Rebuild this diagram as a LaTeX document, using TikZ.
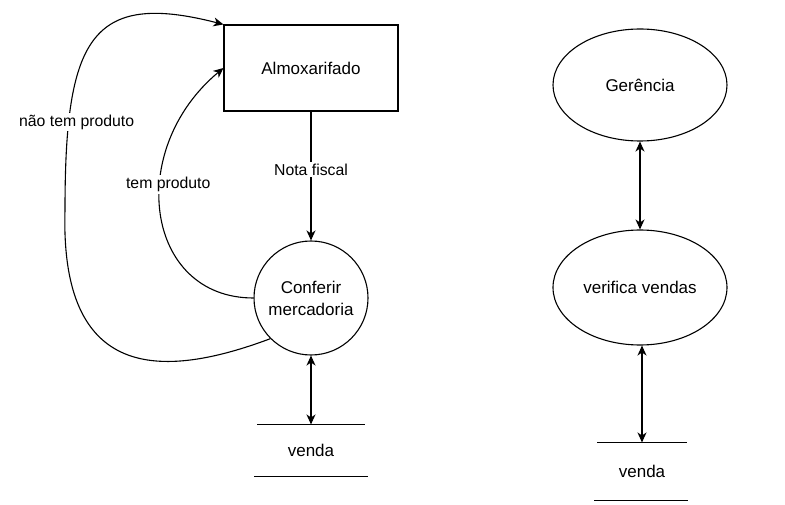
\documentclass[tikz,border=0pt]{standalone}
\usepackage{fontspec}
\setmainfont{Liberation Sans}
\usetikzlibrary{arrows.meta,shapes.geometric}

\begin{document}
\begin{tikzpicture}[->,>={Stealth[length=10pt,width=9pt,inset=3pt]},x=1pt,y=-1pt,
                    line width=1.1pt,font=\fontsize{17}{22}\selectfont,
                    entidade/.style={draw,rectangle,minimum width=174pt,minimum height=86pt},
                    processo/.style={draw,circle,minimum size=114pt,inner sep=0pt,align=center},
                    elipse/.style={draw,ellipse,minimum width=174pt,minimum height=112pt},
                    deposito/.style={inner sep=0pt},
                    rotulo/.style={fill=white,inner sep=2pt,font=\fontsize{15.8}{19}\selectfont}]

  	\useasboundingbox (0,0) rectangle (785,505);

  	\node[entidade](alm) at (311,68)       	{Almoxarifado};
  	\node[processo](conf) at (311,298)   	{Conferir\\mercadoria};
	\node[deposito,minimum width=106pt,minimum height=51pt](v1) at (311,450.5) {venda};
	\node[elipse](ger) at (640,85)        	{Gerência};
	\node[elipse,minimum height=115pt](ver) at (640,287.5) {verifica vendas};
	\node[deposito,minimum width=88pt,minimum height=57pt](v2) at (642,471.5) {venda};

	\draw[-] (v1.north west) -- (v1.north east);
	\draw[-] ([xshift=-3pt]v1.south west) -- ([xshift=3pt]v1.south east);
	\draw[-] (v2.north west) -- (v2.north east);
	\draw[-] ([xshift=-3pt]v2.south west) -- ([xshift=1pt]v2.south east);

  	\draw (alm) -- node[rotulo,pos=0.45] {Nota fiscal} (conf);
	\draw (conf.west) .. controls (145,298) and (125,150) .. (alm.west)
		node[rotulo,pos=0.6,xshift=8pt] {tem produto};
	\draw (conf.225) .. controls (160,380) and (60,380) .. (65,210)
		.. controls (65,40) and (90,-10) .. (alm.north west)
		node[rotulo,pos=0.2,xshift=8pt] {não tem produto};
	\draw[<->] (conf) -- (v1.north);

	\draw[<->] (ger) -- (ver);
	\draw[<->] (ver.south -| v2.north) -- (v2.north);

\end{tikzpicture}
\end{document}
